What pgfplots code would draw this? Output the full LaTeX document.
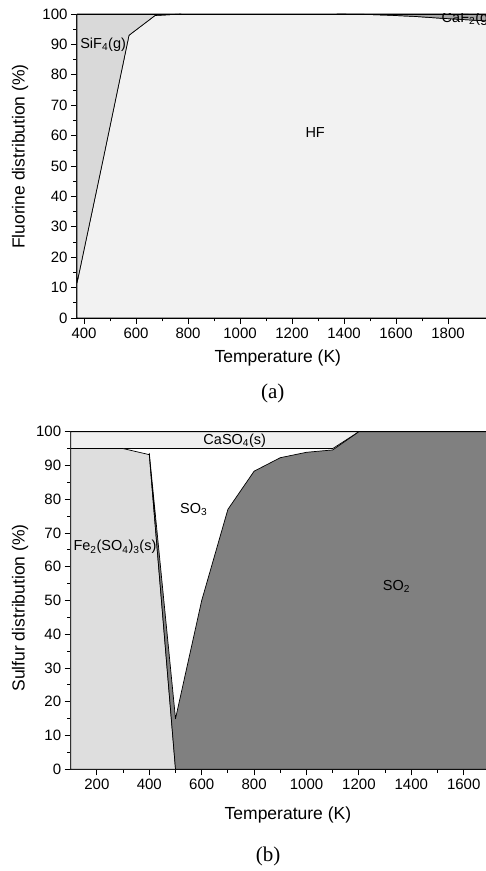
\documentclass[border=0pt]{standalone}
\usepackage{fontspec}
\setmainfont{Liberation Sans}
\newfontfamily\capfont{Liberation Serif}
\usepackage{pgfplots}
\pgfplotsset{compat=1.18}

\definecolor{hfgray}{HTML}{F2F2F2}
\definecolor{sifgray}{HTML}{D9D9D9}
\definecolor{cafgray}{HTML}{A6A6A6}
\definecolor{fegray}{HTML}{DEDEDE}
\definecolor{sotwo}{HTML}{808080}
\definecolor{casgray}{HTML}{EFEFEF}

\tikzset{
  region/.style={draw=black, line width=0.7pt, line join=round},
  tag/.style={font=\fontsize{14.5}{17}\selectfont, anchor=west, inner sep=0pt},
}
\newcommand{\sub}[1]{\textsubscript{#1}}

\pgfplotsset{
  distplot/.style={
    scale only axis,
    axis x line*=bottom,
    axis y line*=left,
    axis line style={line width=1.1pt, -},
    tick align=outside,
    major tick length=6pt,
    minor tick length=3.5pt,
    every tick/.style={black, line width=0.9pt},
    ymin=0, ymax=100,
    ytick={0,10,...,100},
    minor y tick num=1,
    minor x tick num=1,
    tick label style={font=\fontsize{15}{18}\selectfont},
    label style={font=\fontsize{17.5}{21}\selectfont},
    /pgf/number format/assume math mode=true,
    /pgf/number format/1000 sep={},
    clip=true,
  },
}

\begin{document}
\begin{tikzpicture}
\useasboundingbox (0pt,0pt) rectangle (486pt,871pt);

% (a) fluorine species
\begin{axis}[distplot,
  at={(77pt,553pt)}, anchor=south west,
  width=409pt, height=304pt,
  xmin=373, xmax=1946,
  xtick={400,600,...,1800},
  xlabel={Temperature (K)},
  ylabel={Fluorine distribution (\%)},
  xlabel style={at={(axis description cs:0.491,-0.1316)}, anchor=center},
  ylabel style={at={(axis description cs:-0.1394,0.531)}, anchor=center},
]
\addplot[region, fill=hfgray] coordinates {
  (373,0) (373,11.5) (473,52) (573,93) (673,99.5) (773,100) (873,100)
  (973,100) (1073,100) (1173,100) (1273,100) (1373,100) (1473,99.9)
  (1573,99.6) (1673,99.2) (1773,98.6) (1873,98.1) (1973,97.6) (1973,0)
} -- cycle;
\addplot[region, fill=sifgray] coordinates {
  (373,100) (373,11.5) (473,52) (573,93) (673,99.5) (773,100)
} -- cycle;
\addplot[region, fill=cafgray] coordinates {
  (1373,100) (1473,99.9) (1573,99.6) (1673,99.2) (1773,98.6)
  (1873,98.1) (1973,97.6) (1973,100)
} -- cycle;
\addplot[black, line width=0.8pt] coordinates {(373,100) (1973,100)};
\node[tag] at (axis cs:385,90) {SiF\sub{4}(g)};
\node[tag, anchor=center] at (axis cs:1289,60.9) {HF};
\node[tag, overlay] at (axis cs:1775,98.4) {CaF\sub{2}(g)};
\end{axis}

% (b) sulfur species
\begin{axis}[distplot,
  at={(70.7pt,101.7pt)}, anchor=south west,
  width=415.3pt, height=337.6pt,
  xmin=100, xmax=1685,
  xtick={200,400,...,1600},
  xlabel={Temperature (K)},
  ylabel={Sulfur distribution (\%)},
  xlabel style={at={(axis description cs:0.523,-0.1354)}, anchor=center},
  ylabel style={at={(axis description cs:-0.1221,0.478)}, anchor=center},
]
\addplot[region, fill=casgray] coordinates {
  (100,95) (200,95) (300,95) (400,95) (500,95) (600,95) (700,95) (800,95)
  (900,95) (1000,95) (1100,95) (1200,100) (100,100)
} -- cycle;
\addplot[region, fill=fegray] coordinates {
  (100,0) (100,95) (200,95) (300,95) (400,93.2) (500,0)
} -- cycle;
\addplot[region, fill=sotwo] coordinates {
  (400,93.2) (500,0) (1700,0) (1700,100) (1200,100) (1100,94.6)
  (1000,93.9) (900,92.3) (800,88.3) (700,77) (600,50) (500,15) (400,93.6)
} -- cycle;
\addplot[black, line width=0.8pt] coordinates {(100,100) (1700,100)};
\node[tag] at (axis cs:606,97.3) {CaSO\sub{4}(s)};
\node[tag] at (axis cs:517,77) {SO\sub{3}};
\node[tag] at (axis cs:110,65.8) {Fe\sub{2}(SO\sub{4})\sub{3}(s)};
\node[tag] at (axis cs:1291,54.1) {SO\sub{2}};
\end{axis}

\node[font=\capfont\fontsize{21}{25}\selectfont] at (272.8pt,478pt) {(a)};
\node[font=\capfont\fontsize{21}{25}\selectfont] at (268pt,14.3pt) {(b)};
\end{tikzpicture}
\end{document}
